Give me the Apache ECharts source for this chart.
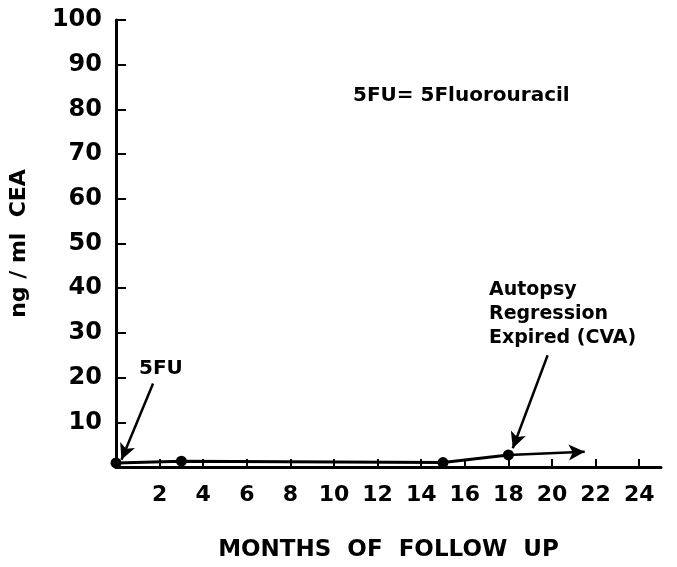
<!DOCTYPE html>
<html>
<head>
<meta charset="utf-8">
<script src="https://cdn.jsdelivr.net/npm/echarts@6/dist/echarts.min.js"></script>
<style>
  html, body { margin: 0; padding: 0; background: #fff; }
  #chart { width: 677px; height: 567px; }
</style>
</head>
<body>
<div id="chart"></div>
<script>
// follow up months and CEA readings
const months = [0, 3, 15, 18];
const cea = [0.9, 1.3, 1.0, 2.7];
// continuing trend arrow after the last reading
const trendMonths = [18, 21.5];
const trendCea = [2.7, 3.4];
const xTicks = [2, 4, 6, 8, 10, 12, 14, 16, 18, 20, 22, 24];
const yTicks = [10, 20, 30, 40, 50, 60, 70, 80, 90, 100];
// annotation arrows: [from, to] in data units
const fuArrow = [[1.7, 18.7], [0.25, 1.6]];
const autopsyArrow = [[19.8, 25], [18.2, 4.2]];

const font = 'DejaVu Sans';
const chart = echarts.init(document.getElementById('chart'));

const option = {
  animation: false,
  grid: { left: 115, right: 16, top: 20, bottom: 98 },
  xAxis: {
    type: 'value',
    min: 0,
    max: 25,
    name: 'MONTHS  OF  FOLLOW  UP',
    nameLocation: 'middle',
    nameGap: 72,
    nameTextStyle: { color: '#000', fontFamily: font, fontSize: 23, fontWeight: 'bold' },
    axisLine: { lineStyle: { color: '#000', width: 3 } },
    axisTick: { inside: true, length: 8, customValues: xTicks, lineStyle: { color: '#000', width: 2 } },
    axisLabel: { customValues: xTicks, margin: 17, color: '#000', fontFamily: font, fontSize: 22, fontWeight: 'bold' },
    splitLine: { show: false }
  },
  yAxis: {
    type: 'value',
    min: 0,
    max: 100,
    interval: 10,
    name: 'ng / ml  CEA',
    nameLocation: 'middle',
    nameGap: 86,
    nameTextStyle: { color: '#000', fontFamily: font, fontSize: 22, fontWeight: 'bold' },
    axisLine: { show: true, lineStyle: { color: '#000', width: 3 } },
    axisTick: { show: true, inside: true, length: 10, customValues: yTicks, lineStyle: { color: '#000', width: 2 } },
    axisLabel: { customValues: yTicks, margin: 14, color: '#000', fontFamily: font, fontSize: 24, fontWeight: 'bold' },
    splitLine: { show: false }
  },
  series: [
    {
      type: 'line',
      data: months.map((m, i) => [m, cea[i]]),
      symbol: 'circle',
      symbolSize: 11,
      itemStyle: { color: '#000' },
      lineStyle: { color: '#000', width: 3 },
      z: 5,
      markLine: {
        silent: true,
        symbol: ['none', 'arrow'],
        symbolSize: [12, 16],
        label: { show: false },
        lineStyle: { color: '#000', width: 2.5, type: 'solid' },
        data: [
          [{ coord: fuArrow[0] }, { coord: fuArrow[1] }],
          [{ coord: autopsyArrow[0] }, { coord: autopsyArrow[1] }],
          [{ coord: [trendMonths[0], trendCea[0]] }, { coord: [trendMonths[1], trendCea[1]] }]
        ]
      }
    }
  ],
  graphic: [
    {
      type: 'text', left: 353, top: 86,
      style: { text: '5FU= 5Fluorouracil', fill: '#000', font: 'bold 20px "DejaVu Sans"' }
    },
    {
      type: 'text', left: 139, top: 359,
      style: { text: '5FU', fill: '#000', font: 'bold 20px "DejaVu Sans"' }
    },
    {
      type: 'text', left: 489, top: 278,
      style: { text: 'Autopsy\nRegression\nExpired (CVA)', fill: '#000', font: 'bold 19px "DejaVu Sans"', lineHeight: 24 }
    }
  ]
};
chart.setOption(option);
</script>
</body>
</html>
